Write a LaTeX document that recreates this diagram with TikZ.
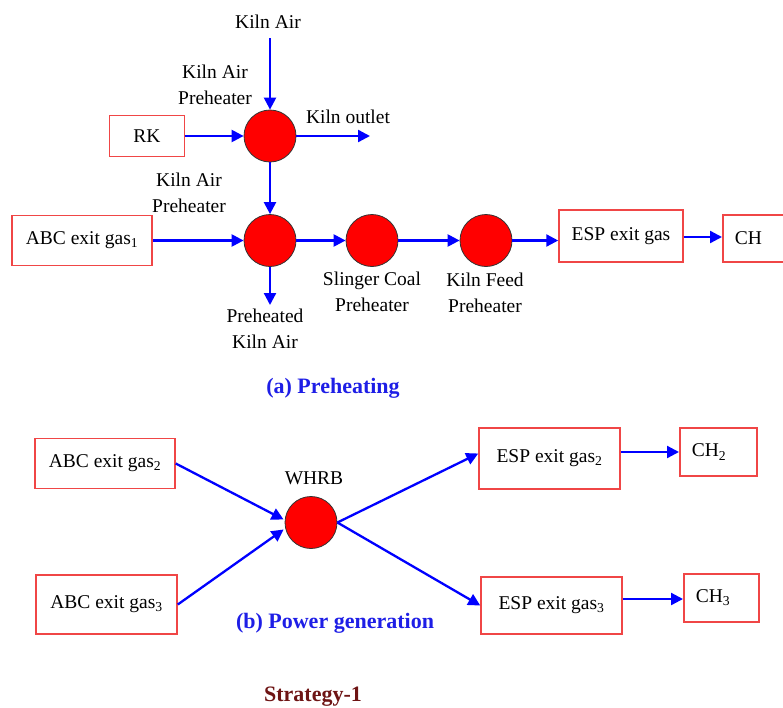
\documentclass[tikz,border=0pt]{standalone}
\usepackage{fontspec}
\setmainfont{Liberation Serif}
\usetikzlibrary{arrows.meta,positioning}
\definecolor{boxred}{RGB}{240,70,70}
\definecolor{flowblue}{RGB}{0,0,255}
\definecolor{capblue}{RGB}{30,30,230}
\definecolor{stratred}{RGB}{110,20,20}
\tikzset{
  ball/.style={circle, fill=red, draw=black!80, line width=0.8pt, minimum size=52pt, inner sep=0pt},
  pbox/.style={draw=boxred, line width=1.5pt, rectangle, inner sep=0pt, font=\fontsize{19.5}{26}\selectfont},
  chbox/.style={pbox, anchor=west, align=left, inner xsep=12pt},
  flow/.style={draw=flowblue, line width=2.3pt, -{Triangle[length=12pt, width=12pt]}},
  lbl/.style={align=center, inner sep=1pt, font=\fontsize{19.5}{26}\selectfont},
  captext/.style={font=\fontsize{22}{26}\selectfont\bfseries, inner sep=1pt},
}
\begin{document}
\begin{tikzpicture}[x=1pt, y=-1pt]
\useasboundingbox (0,0) rectangle (783,707);
% ---- (a) Preheating ----
\node[ball] (c1) at (270,136) {};
\node[ball] (c2) at (270,240.5) {};
\node[ball] (c3) at (372,240.5) {};
\node[ball] (c4) at (486,240.5) {};
\node[pbox, minimum width=75pt, minimum height=41pt] (rk) at (147,136) {RK};
\node[pbox, minimum width=140pt, minimum height=50pt] (abc1) at (82,240.5) {ABC exit gas\textsubscript{1}};
\node[pbox, minimum width=124pt, minimum height=52pt] (esp) at (621,236) {ESP exit gas};
\node[chbox, minimum height=47pt, text width=58pt] (ch) at (722,238.5) {CH};

\node[lbl] (kilnair) at (268,22) {Kiln Air};
\node[lbl] (kap1) at (215,85) {Kiln Air\\Preheater};
\node[lbl] (kout) at (348,117) {Kiln outlet};
\node[lbl] (kap2) at (189,193) {Kiln Air\\Preheater};
\node[lbl] (pka) at (265,329) {Preheated\\Kiln Air};
\node[lbl] (scp) at (372,292) {Slinger Coal\\Preheater};
\node[lbl] (kfp) at (485,293) {Kiln Feed\\Preheater};
\node[captext, text=capblue] (capa) at (333,388) {(a) Preheating};

\coordinate (airtop) at (270,38);
\coordinate (outend) at (370,136);
\coordinate (pkaend) at (270,305);

\draw[flow] (airtop) -- (c1);
\draw[flow] (rk) -- (c1);
\draw[flow] (c1) -- (outend);
\draw[flow] (c1) -- (c2);
\draw[flow] (abc1) -- (c2);
\draw[flow] (c2) -- (c3);
\draw[flow] (c2) -- (pkaend);
\draw[flow] (c3) -- (c4);
\draw[flow] (c4) -- (c4 -| esp.west);
\draw[flow] (esp.east |- 0,237) -- (ch.west |- 0,237);

% ---- (b) Power generation ----
\node[ball] (whrb) at (311,522.5) {};
\node[lbl] (whrblbl) at (314,478) {WHRB};
\node[pbox, minimum width=140pt, minimum height=50pt] (abc2) at (105,463.5) {ABC exit gas\textsubscript{2}};
\node[pbox, minimum width=141pt, minimum height=59pt] (abc3) at (106.5,604.5) {ABC exit gas\textsubscript{3}};
\node[pbox, minimum width=141pt, minimum height=61pt] (esp2) at (549.5,458.5) {ESP exit gas\textsubscript{2}};
\node[pbox, minimum width=141pt, minimum height=57pt] (esp3) at (551.5,605.5) {ESP exit gas\textsubscript{3}};
\node[chbox, minimum height=48pt, text width=53pt] (ch2) at (679,452) {CH\textsubscript{2}};
\node[chbox, minimum height=48pt, text width=51pt] (ch3) at (683,598) {CH\textsubscript{3}};
\node[captext, text=capblue] (capb) at (335,623) {(b) Power generation};
\node[captext, text=stratred] (strat) at (313,697) {Strategy-1};

\draw[flow] (abc2.east) -- ([xshift=-1pt,yshift=3pt]whrb.west);
\draw[flow] (abc3.east) -- ([xshift=-1pt,yshift=-7pt]whrb.west);
\draw[flow] (whrb.east) -- ([yshift=5pt]esp2.west);
\draw[flow] (whrb.east) -- (esp3.west);
\draw[flow] (esp2.east |- 0,452) -- (ch2.west |- 0,452);
\draw[flow] (esp3.east |- 0,599) -- (ch3.west |- 0,599);
\end{tikzpicture}
\end{document}
